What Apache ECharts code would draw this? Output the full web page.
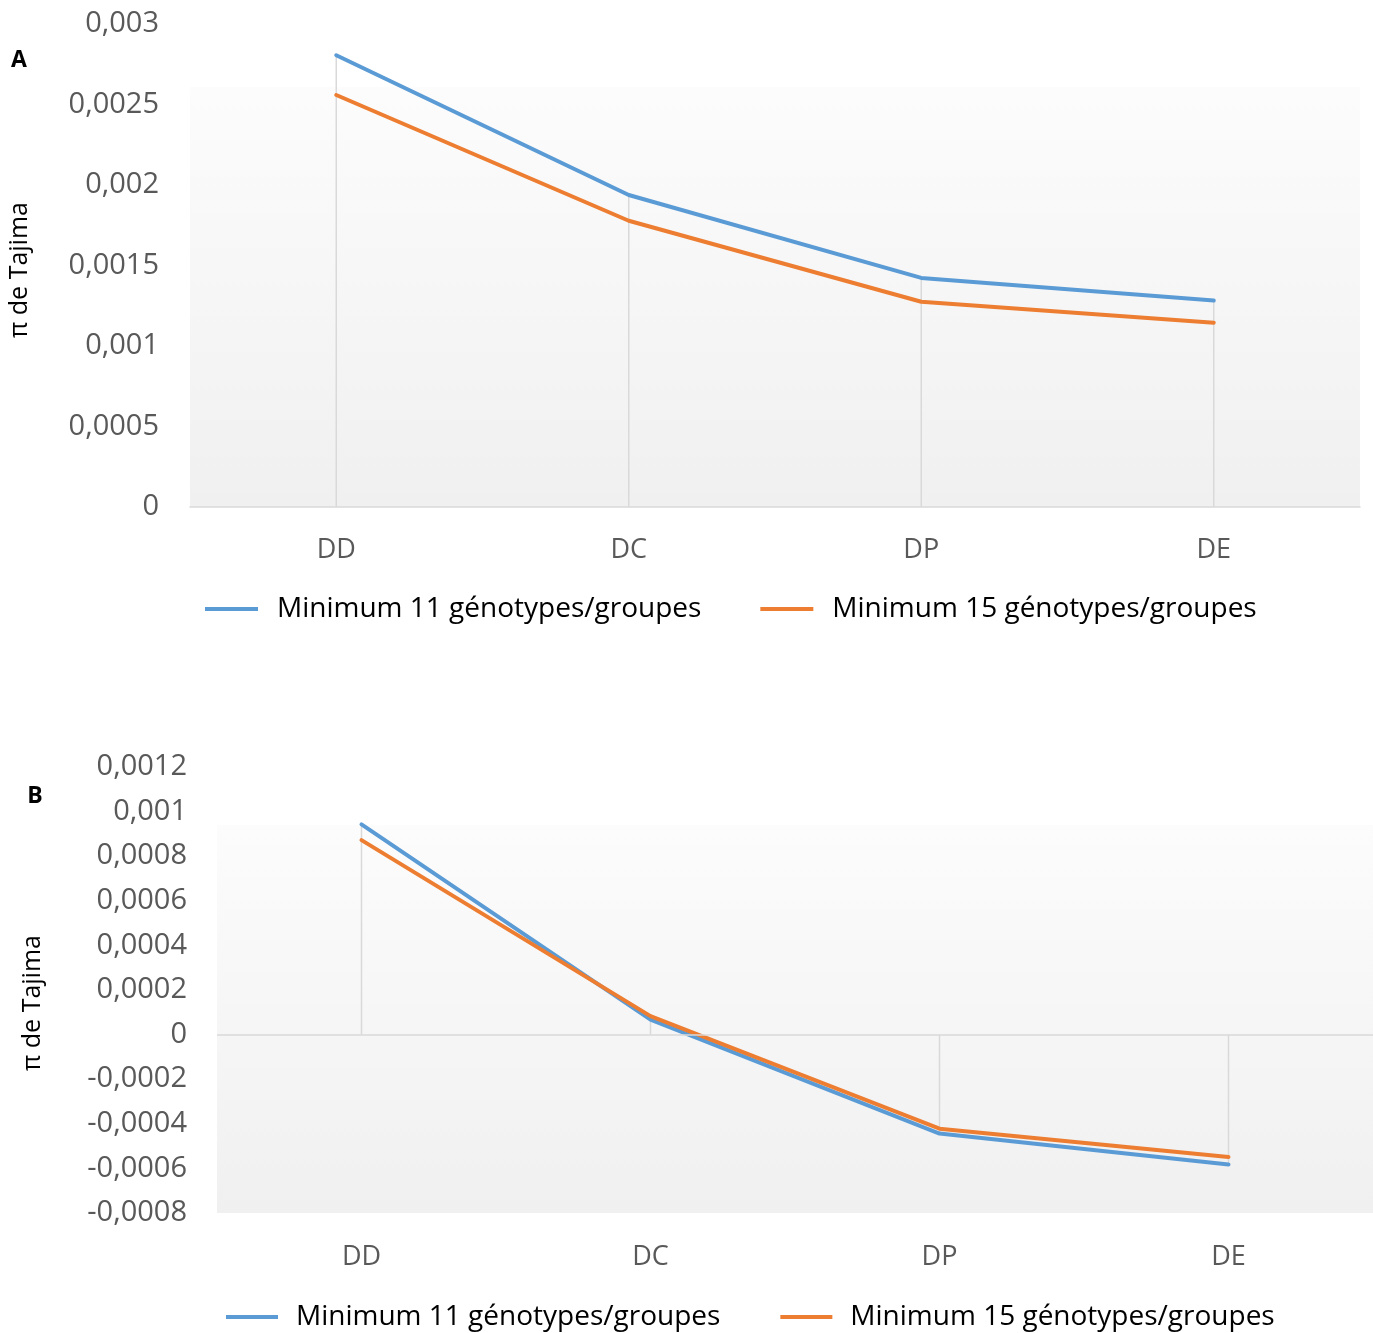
<!DOCTYPE html>
<html>
<head>
<meta charset="utf-8">
<script src="https://cdn.jsdelivr.net/npm/echarts@6/dist/echarts.min.js"></script>
<style>
html,body{margin:0;padding:0;background:#fff;}
#chart{width:1373px;height:1333px;}
</style>
</head>
<body>
<div id="chart"></div>
<script>
// ---- data ----
const categories = ['DD', 'DC', 'DP', 'DE'];
const seriesNames = ['Minimum 11 génotypes/groupes', 'Minimum 15 génotypes/groupes'];
const piA_min11 = [0.002806, 0.001938, 0.001423, 0.001282];
const piA_min15 = [0.002559, 0.001778, 0.001275, 0.001145];
const piB_min11 = [0.000943, 0.000067, -0.000444, -0.000583];
const piB_min15 = [0.000872, 0.000083, -0.000422, -0.000549];
const axisA = {min: 0, max: 0.003, interval: 0.0005};
const axisB = {min: -0.0008, max: 0.0012, interval: 0.0002};
const yTitle = 'π de Tajima';
const panelLabels = ['A', 'B'];

const BLUE = '#5b9bd5', ORANGE = '#ed7d31';
const FONT = '"Open Sans", "Liberation Sans", sans-serif';

function fmt(v) {
  return parseFloat(v.toPrecision(6)).toString().replace('.', ',');
}
function dropData(a, b) {
  return a.map((v, i) => [i, Math.abs(v) >= Math.abs(b[i]) ? v : b[i]]);
}
function dropSeries(idx, a, b) {
  return {
    type: 'custom', xAxisIndex: idx, yAxisIndex: idx, silent: true, z: 1,
    data: dropData(a, b),
    renderItem: function (params, api) {
      const p1 = api.coord([api.value(0), api.value(1)]);
      const p0 = api.coord([api.value(0), 0]);
      return {type: 'line', shape: {x1: p0[0], y1: p0[1], x2: p1[0], y2: p1[1]},
        style: {stroke: '#d9d9d9', lineWidth: 1.5}};
    }
  };
}
function lineSeries(idx, name, data, color, extra) {
  return Object.assign({
    type: 'line', name: name, xAxisIndex: idx, yAxisIndex: idx, data: data,
    symbol: 'none', smooth: false, z: 3,
    lineStyle: {color: color, width: 4, cap: 'round', join: 'round'},
    itemStyle: {color: color}
  }, extra || {});
}
const bg = {type: 'linear', x: 0, y: 0, x2: 0, y2: 1, colorStops: [
  {offset: 0, color: '#ffffff'}, {offset: 0.13, color: '#ffffff'},
  {offset: 0.131, color: '#fcfcfc'}, {offset: 1, color: '#f0f0f0'}]};

const chart = echarts.init(document.getElementById('chart'), null, {renderer: 'canvas'});
chart.setOption({
  animation: false,
  backgroundColor: '#ffffff',
  textStyle: {fontFamily: FONT},
  grid: [
    {left: 190, right: 13, top: 24, bottom: 826, show: true, backgroundColor: bg, borderWidth: 0},
    {left: 217, right: -3, top: 767, bottom: 120, show: true, backgroundColor: bg, borderWidth: 0}
  ],
  xAxis: [
    {type: 'category', gridIndex: 0, data: categories, boundaryGap: true,
      axisLine: {show: true, lineStyle: {color: '#d9d9d9', width: 1.5}},
      axisTick: {show: false}, splitLine: {show: false},
      axisLabel: {color: '#595959', fontSize: 27, margin: 30, fontFamily: FONT}},
    {type: 'category', gridIndex: 1, data: categories, boundaryGap: true, position: 'bottom',
      axisLine: {show: false, onZero: false},
      axisTick: {show: false}, splitLine: {show: false},
      axisLabel: {color: '#595959', fontSize: 27, margin: 31, fontFamily: FONT}}
  ],
  yAxis: [
    {type: 'value', gridIndex: 0, min: axisA.min, max: axisA.max, interval: axisA.interval,
      axisLine: {show: false}, axisTick: {show: false}, splitLine: {show: false},
      axisLabel: {color: '#595959', fontSize: 29, margin: 31, formatter: fmt, fontFamily: FONT}},
    {type: 'value', gridIndex: 1, min: axisB.min, max: axisB.max, interval: axisB.interval,
      axisLine: {show: false}, axisTick: {show: false}, splitLine: {show: false},
      axisLabel: {color: '#595959', fontSize: 29, margin: 30, formatter: fmt, fontFamily: FONT}}
  ],
  legend: [
    {left: 205, top: 595, padding: 0, itemWidth: 53, itemHeight: 4, itemGap: 59, icon: 'rect',
      data: [{name: seriesNames[0]}, {name: seriesNames[1]}],
      textStyle: {color: '#000000', fontSize: 28, padding: [0, 0, 0, 14], fontFamily: FONT}},
    {left: 226, top: 1303, padding: 0, itemWidth: 52, itemHeight: 4, itemGap: 60, icon: 'rect',
      data: [{name: seriesNames[0] + ' '}, {name: seriesNames[1] + ' '}],
      formatter: n => n.trim(),
      textStyle: {color: '#000000', fontSize: 28, padding: [0, 0, 0, 13], fontFamily: FONT}}
  ],
  graphic: [
    {type: 'text', x: 19, y: 60, style: {text: panelLabels[0], font: 'bold 23px ' + FONT, fill: '#000', align: 'center', verticalAlign: 'middle'}},
    {type: 'text', x: 35, y: 796, style: {text: panelLabels[1], font: 'bold 23px ' + FONT, fill: '#000', align: 'center', verticalAlign: 'middle'}},
    {type: 'text', x: 20, y: 270, rotation: Math.PI / 2, style: {text: yTitle, font: '25px ' + FONT, fill: '#000', align: 'center', verticalAlign: 'middle'}},
    {type: 'text', x: 33, y: 1003, rotation: Math.PI / 2, style: {text: yTitle, font: '25px ' + FONT, fill: '#000', align: 'center', verticalAlign: 'middle'}}
  ],
  series: [
    dropSeries(0, piA_min11, piA_min15),
    dropSeries(1, piB_min11, piB_min15),
    lineSeries(0, seriesNames[0], piA_min11, BLUE),
    lineSeries(0, seriesNames[1], piA_min15, ORANGE),
    lineSeries(1, seriesNames[0] + ' ', piB_min11, BLUE, {
      markLine: {silent: true, symbol: 'none', label: {show: false},
        lineStyle: {color: '#d9d9d9', width: 1.5, type: 'solid'},
        data: [{yAxis: 0}]}
    }),
    lineSeries(1, seriesNames[1] + ' ', piB_min15, ORANGE)
  ]
});
</script>
</body>
</html>
